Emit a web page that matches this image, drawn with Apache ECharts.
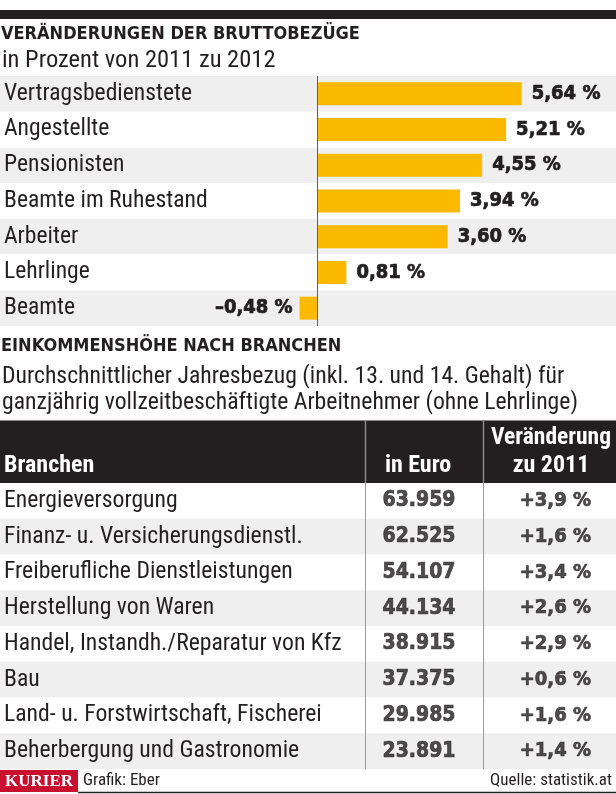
<!DOCTYPE html>
<html><head><meta charset="utf-8">
<script src="https://cdn.jsdelivr.net/npm/echarts@6/dist/echarts.min.js"></script>
<style>html,body{margin:0;padding:0;background:#fff}#c{width:616px;height:794px}</style>
</head><body><div id="c"></div>
<script>
// ---- Data ----
const barCategories = ['Vertragsbedienstete','Angestellte','Pensionisten','Beamte im Ruhestand','Arbeiter','Lehrlinge','Beamte'];
const barValues = [5.64, 5.21, 4.55, 3.94, 3.60, 0.81, -0.48];

const branchen = ['Energieversorgung','Finanz- u. Versicherungsdienstl.','Freiberufliche Dienstleistungen','Herstellung von Waren','Handel, Instandh./Reparatur von Kfz','Bau','Land- u. Forstwirtschaft, Fischerei','Beherbergung und Gastronomie'];
const euroValues = [63959, 62525, 54107, 44134, 38915, 37375, 29985, 23891];
const changeValues = [3.9, 1.6, 3.4, 2.6, 2.9, 0.6, 1.6, 1.4];

const title1 = 'VERÄNDERUNGEN DER BRUTTOBEZÜGE';
const subtitle1 = 'in Prozent von 2011 zu 2012';
const title2 = 'EINKOMMENSHÖHE NACH BRANCHEN';
const subtitle2a = 'Durchschnittlicher Jahresbezug (inkl. 13. und 14. Gehalt) für';
const subtitle2b = 'ganzjährig vollzeitbeschäftigte Arbeitnehmer (ohne Lehrlinge)';
const headers = ['Branchen', 'in Euro', 'Veränderung', 'zu 2011'];
const sourceText = 'Quelle: statistik.at';
const creditText = 'Grafik: Eber';
const brandText = 'KURIER';

// ---- Helpers ----
const F = '"Liberation Sans Narrow","Roboto Condensed","DejaVu Sans Condensed",sans-serif';
const FB = '"DejaVu Sans Condensed","DejaVu Sans",sans-serif';
const DARK = '#231f20';
function pct(v){ const s = Math.abs(v).toFixed(2).replace('.', ','); return (v < 0 ? '\u2013' : '') + s + ' %'; }
function euro(v){ return String(v).replace(/\B(?=(\d{3})+(?!\d))/g, '.'); }
function chg(v){ return (v >= 0 ? '+' : '\u2013') + Math.abs(v).toFixed(1).replace('.', ',') + ' %'; }

const chart = echarts.init(document.getElementById('c'), null, {renderer: 'canvas'});

const ZERO_X = 317, PX_PER_UNIT = 36.3, W = 616;
const xMin = -ZERO_X / PX_PER_UNIT, xMax = (W - ZERO_X) / PX_PER_UNIT;
const heavy = {textBorderColor: DARK, textBorderWidth: 0.7};

const option = {
  animation: false,
  backgroundColor: '#fff',
  grid: [
    {left: 0, right: 0, top: 76, height: 250, containLabel: false},
    {left: 0, right: 0, top: 483, height: 286, containLabel: false}
  ],
  xAxis: [
    {gridIndex: 0, type: 'value', min: xMin, max: xMax, show: false},
    {gridIndex: 1, type: 'value', min: 0, max: W, show: false}
  ],
  yAxis: [
    {gridIndex: 0, type: 'category', data: barCategories, inverse: true,
     axisLine: {show: false}, axisTick: {show: false},
     splitArea: {show: true, areaStyle: {color: ['#efefef', '#ffffff']}},
     axisLabel: {inside: true, margin: 4, color: DARK, fontSize: 23.6, fontFamily: F}},
    {gridIndex: 1, type: 'category', data: branchen, inverse: true,
     axisLine: {show: false}, axisTick: {show: false},
     splitArea: {show: true, areaStyle: {color: ['#ffffff', '#efefef']}},
     axisLabel: {inside: true, margin: 4, color: DARK, fontSize: 23.7, fontFamily: F}}
  ],
  series: [
    {type: 'bar', xAxisIndex: 0, yAxisIndex: 0, barWidth: 23,
     data: barValues.map(v => ({value: v, label: {position: v < 0 ? 'left' : 'right', distance: v < 0 ? 7 : 10}})),
     itemStyle: {color: '#fbb900'},
     label: Object.assign({show: true, formatter: p => pct(p.value), color: DARK, fontSize: 20, fontWeight: 'bold', fontFamily: FB}, heavy),
     markLine: {silent: true, symbol: 'none', label: {show: false},
       lineStyle: {color: '#5a6070', width: 1, type: 'solid'},
       data: [{xAxis: 0}]}
    },
    {type: 'scatter', xAxisIndex: 1, yAxisIndex: 1, symbolSize: 0,
     data: euroValues.map((v, i) => [419, branchen[i], v]),
     label: Object.assign({show: true, position: 'inside', formatter: p => euro(p.data[2]), color: DARK, fontSize: 21, fontWeight: 'bold', fontFamily: FB}, heavy)
    },
    {type: 'scatter', xAxisIndex: 1, yAxisIndex: 1, symbolSize: 0,
     data: changeValues.map((v, i) => [591, branchen[i], v]),
     label: Object.assign({show: true, position: 'left', distance: 0, formatter: p => chg(p.data[2]), color: DARK, fontSize: 20, fontWeight: 'bold', fontFamily: FB}, heavy)
    }
  ],
  graphic: [
    {type: 'rect', shape: {x: 0, y: 10, width: W, height: 9}, style: {fill: DARK}},
    {type: 'text', x: 1, y: 34, style: {text: title1, fill: DARK, font: 'bold 18px ' + FB, textVerticalAlign: 'middle'}},
    {type: 'text', x: 2, y: 61, style: {text: subtitle1, fill: DARK, font: '24.5px ' + F, textVerticalAlign: 'middle'}},
    {type: 'text', x: 1, y: 346, style: {text: title2, fill: DARK, font: 'bold 18px ' + FB, textVerticalAlign: 'middle'}},
    {type: 'text', x: 2, y: 377, style: {text: subtitle2a, fill: DARK, font: '23.7px ' + F, textVerticalAlign: 'middle'}},
    {type: 'text', x: 2, y: 403, style: {text: subtitle2b, fill: DARK, font: '23.7px ' + F, textVerticalAlign: 'middle'}},
    // table header
    {type: 'rect', shape: {x: 0, y: 420, width: W, height: 63}, style: {fill: DARK}},
    {type: 'line', shape: {x1: 0, y1: 420.5, x2: W, y2: 420.5}, style: {stroke: '#8a8a8a', lineWidth: 1}},
    {type: 'line', shape: {x1: 365.5, y1: 421, x2: 365.5, y2: 483}, style: {stroke: '#8a8a8a', lineWidth: 1.5}},
    {type: 'line', shape: {x1: 483.5, y1: 421, x2: 483.5, y2: 483}, style: {stroke: '#8a8a8a', lineWidth: 1.5}},
    {type: 'text', x: 4, y: 466, style: {text: headers[0], fill: '#fff', font: 'bold 24px ' + F, textVerticalAlign: 'middle'}},
    {type: 'text', x: 418, y: 466, style: {text: headers[1], fill: '#fff', font: 'bold 24px ' + F, textAlign: 'center', textVerticalAlign: 'middle'}},
    {type: 'text', x: 551, y: 438, style: {text: headers[2], fill: '#fff', font: 'bold 23.5px ' + F, textAlign: 'center', textVerticalAlign: 'middle'}},
    {type: 'text', x: 551, y: 466, style: {text: headers[3], fill: '#fff', font: 'bold 24px ' + F, textAlign: 'center', textVerticalAlign: 'middle'}},
    // column separators in body
    {type: 'line', z: 10, shape: {x1: 365.5, y1: 483, x2: 365.5, y2: 769}, style: {stroke: '#9a9a9a', lineWidth: 1}},
    {type: 'line', z: 10, shape: {x1: 483.5, y1: 483, x2: 483.5, y2: 769}, style: {stroke: '#9a9a9a', lineWidth: 1}},
    // footer
    {type: 'rect', shape: {x: 0, y: 770, width: 78, height: 22}, style: {fill: '#c8102e'}},
    {type: 'text', x: 39, y: 781.5, style: {text: brandText, fill: '#fff', font: 'bold 17px "Liberation Serif","DejaVu Serif",serif', textAlign: 'center', textVerticalAlign: 'middle'}},
    {type: 'text', x: 83, y: 781, style: {text: creditText, fill: DARK, font: '17px ' + F, textVerticalAlign: 'middle'}},
    {type: 'text', x: 612, y: 781, style: {text: sourceText, fill: DARK, font: '17px ' + F, textAlign: 'right', textVerticalAlign: 'middle'}},
    {type: 'line', shape: {x1: 78, y1: 792.5, x2: W, y2: 792.5}, style: {stroke: DARK, lineWidth: 1.5}}
  ]
};
chart.setOption(option);
</script></body></html>
